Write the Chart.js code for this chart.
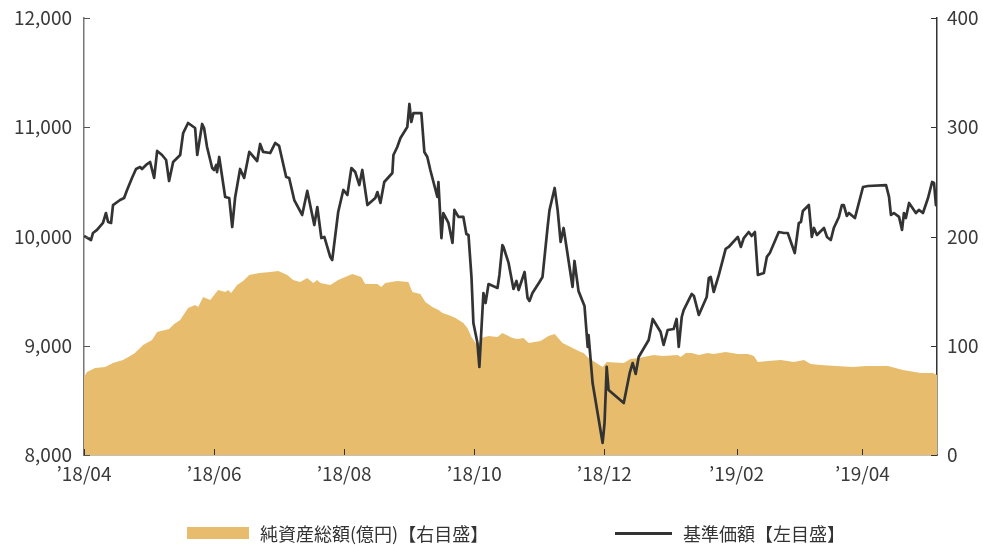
<!DOCTYPE html>
<html lang="ja">
<head>
<meta charset="utf-8">
<script src="https://cdn.jsdelivr.net/npm/chart.js@4/dist/chart.umd.min.js"></script>
<style>
  html, body { margin:0; padding:0; background:#fff; }
  #wrap { position:relative; width:983px; height:545px; }
  #legend { position:absolute; left:0; top:521px; width:983px; height:24px;
    font-family:'Noto Sans CJK JP','Noto Sans',sans-serif; font-size:18px; color:#333; }
  .lg { position:absolute; top:0; display:flex; align-items:center; height:24px; white-space:nowrap; }
  .sw-box { display:inline-block; width:62px; height:12px; background:#e7bd6d; margin-right:11px; }
  .sw-line { display:inline-block; width:57px; height:3px; background:#333; margin-right:11px; }
</style>
</head>
<body>
<div id="wrap">
  <canvas id="c" width="983" height="545"></canvas>
  <div id="legend">
    <div class="lg" style="left:187px"><span class="sw-box"></span>純資産総額(億円)【右目盛】</div>
    <div class="lg" style="left:615px"><span class="sw-line"></span>基準価額【左目盛】</div>
  </div>
</div>
<script>
// days counted from 2018/04/01
const monthTicks = [0, 61, 122, 183, 244, 306, 365];
const monthLabels = ['’18/04', '’18/06', '’18/08', '’18/10', '’18/12', '’19/02', '’19/04'];
const leftTicks = [8000, 9000, 10000, 11000, 12000];
const rightTicks = [0, 100, 200, 300, 400];

// 基準価額 (left axis)
const navDays = [0,3.3,4.2,6.1,8.9,10.3,11.3,12.7,13.6,16.9,18.8,20.2,22.5,24.4,26.3,27.2,29.1,31,32.9,34.3,
  36.6,38.5,39.9,41.8,45.1,46.5,48.8,52.1,53.1,55.4,56.3,57.7,60.1,61,62,62.4,63.4,64.8,66.2,68.1,
  69.5,70.9,73.2,75.1,77.5,81.2,82.6,84,87.3,89.7,91.5,94.8,96.2,98.6,102.3,104.7,108,109.4,111.3,112.7,
  115.5,116.4,119.2,121.6,123.5,125.4,127.2,129.1,130.5,132.9,136.6,137.6,139,140.8,144.6,145.1,146.9,148.4,151.6,152.6,
  153.5,154.5,158.2,159.6,161,162.4,165.7,166.2,167.6,168.5,170.9,172.8,173.7,175.6,177.9,179.3,180.3,181.7,182.6,184.5,
  185.4,187.3,188.3,189.7,193.9,194.8,196.2,196.7,199.1,201.4,202.8,203.8,206.6,208,208.9,210.3,213.6,215,217.4,218.3,
  220.7,222.1,223.5,224.9,229.1,230,231.9,234.7,236.2,236.6,238.5,243.2,244.1,245.1,246,253.1,255.9,257.3,258.7,260.1,
  264.8,266.7,270.4,271.8,273.7,276.5,277.9,278.9,280.3,281.2,285,286,288.3,292,293,293.9,295.3,297.7,300.9,302.3,
  306.6,308,309.4,311.7,313.1,314.6,316,318.8,320.2,321.6,325.8,328.2,330,333.3,335.2,336.2,337.1,339.9,341.3,342.3,
  343.7,347,348.4,350.2,351.6,354,355.4,356.3,357.7,358.7,361.5,365.3,367.6,376.1,377.5,378.4,379.8,382.2,383.6,384.5,
  385.4,386.9,390.1,391.5,393.4,395.8,397.7,398.6,399.5,400];
const navValues = [10005,9968,10032,10060,10124,10215,10133,10124,10288,10334,10352,10426,10536,10618,10636,10618,10655,10682,10536,10783,
  10746,10700,10508,10682,10746,10947,11039,10993,10746,11030,10993,10819,10627,10609,10655,10590,10728,10545,10362,10352,
  10087,10362,10618,10536,10774,10691,10847,10774,10764,10856,10829,10545,10536,10334,10197,10417,10105,10270,9986,9996,
  9812,9785,10224,10426,10380,10627,10590,10471,10609,10288,10352,10407,10307,10499,10581,10746,10819,10902,11002,11213,
  11048,11130,11130,10774,10728,10609,10362,10499,9986,10215,10124,9941,10243,10179,10179,10023,10014,9629,9208,9025,
  8806,9483,9391,9565,9529,9648,9922,9904,9758,9520,9593,9510,9675,9437,9410,9483,9584,9629,10087,10243,
  10444,10243,9950,10078,9538,9776,9500,9364,8989,9098,8659,8110,8293,8806,8595,8476,8751,8842,8742,8897,
  9053,9245,9126,9007,9144,9153,9245,8989,9263,9327,9474,9456,9282,9446,9620,9629,9492,9648,9886,9904,
  9996,9904,9986,10041,10005,10041,9648,9666,9813,9849,10041,10032,10032,9849,10124,10133,10234,10288,9996,10078,
  10014,10078,9996,9968,10078,10179,10288,10288,10188,10215,10169,10453,10462,10471,10362,10197,10215,10179,10060,10215,
  10169,10307,10215,10243,10215,10352,10499,10490,10288,10307];

// 純資産総額 (right axis, 億円)
const assetDays = [0,1.4,5.2,9.9,13.6,18.3,21.6,23.9,27.7,31.9,34.3,39.9,42.3,45.1,48.8,52.1,53.5,55.9,59.2,62.9,
  66.2,67.6,69,71.8,74.6,77.5,82.2,87.3,91.1,95.3,98.1,101.4,104.7,107.5,109.4,110.8,115.5,119.2,125.8,130,
  131.9,137.6,139.4,141.3,146.9,152.1,154,157.7,160.1,163.4,166.2,168.1,170.9,174.2,177.9,179.8,181.7,183.6,185,186.4,
  189.7,193.9,196.2,200.9,203.3,206.1,208.5,214.1,217.8,220.7,224.4,229.1,232.9,234.3,236.6,243.2,245.1,253.1,256.3,260.1,
  267.1,271.4,278.4,279.8,282.2,285,288.3,292.5,295.3,300.9,306.6,311.3,314.1,316,320.7,326.8,332.9,337.6,340.8,345.5,
  352.6,360.6,366.7,377,384,392.5,398.1,400];
const assetValues = [71.4,76,79.6,80.5,84.2,87,90.6,93.4,100.7,105.3,112.6,115.3,119.9,123.6,134.6,137.3,135.5,144.6,141.9,151,
  149.2,151,148.3,155.6,159.3,164.8,166.6,167.5,168.4,164.8,160.2,158.4,162,157.4,160.2,157.4,155.6,160.2,165.7,162.9,
  156.5,156.5,153.8,157.4,159.3,158.4,149.2,147.4,140,135.5,132.7,130,128.1,125.4,120.8,116.2,108,102.5,100.7,107.1,
  108.9,108,111.7,107.1,106.2,107.1,102.5,104.3,108.9,110.8,102.5,97.9,94.3,93.4,88.8,80.5,85.1,84.2,87.9,88.8,
  91.5,90.6,91.5,89.7,93.4,93.4,91.5,93.4,92.4,94.3,92.4,92.4,90.6,85.1,86,87,85.1,87,83.3,82.4,
  81.5,80.5,81.5,81.5,77.8,75.1,75.1,73.2];

const FONT = "'Noto Sans CJK JP','Noto Sans',sans-serif";
Chart.defaults.font.family = FONT;
Chart.defaults.color = '#3a3a3a';

// inward tick marks
const innerTicks = {
  id:'innerTicks',
  afterDatasetsDraw(chart){
    const {ctx, chartArea:a, scales} = chart;
    ctx.save();
    ctx.lineWidth = 1;
    ctx.strokeStyle = '#555';
    leftTicks.forEach(v => {
      const y = Math.round(scales.y.getPixelForValue(v)) + 0.5;
      ctx.beginPath(); ctx.moveTo(a.left, y); ctx.lineTo(a.left + 6, y); ctx.stroke();
    });
    ctx.strokeStyle = '#333';
    rightTicks.forEach(v => {
      const y = Math.round(scales.y2.getPixelForValue(v)) + 0.5;
      ctx.beginPath(); ctx.moveTo(a.right - 6, y); ctx.lineTo(a.right, y); ctx.stroke();
    });
    monthTicks.forEach(v => {
      const x = Math.round(scales.x.getPixelForValue(v)) + 0.5;
      ctx.beginPath(); ctx.moveTo(x, a.bottom); ctx.lineTo(x, a.bottom - 6); ctx.stroke();
    });
    ctx.restore();
  }
};

function fixY(width){
  return s => { s.width = width; s.paddingTop = 0; s.paddingBottom = 0; };
}

new Chart(document.getElementById('c'), {
  type:'line',
  data:{
    datasets:[
      {
        label:'基準価額【左目盛】',
        data:navDays.map((d,i)=>({x:d, y:navValues[i]})),
        yAxisID:'y',
        borderColor:'#333',
        borderWidth:2.7,
        borderJoinStyle:'round',
        pointRadius:0,
        tension:0,
        fill:false,
        order:1
      },
      {
        label:'純資産総額(億円)【右目盛】',
        data:assetDays.map((d,i)=>({x:d, y:assetValues[i]})),
        yAxisID:'y2',
        borderWidth:0,
        borderColor:'rgba(0,0,0,0)',
        backgroundColor:'#e7bd6d',
        pointRadius:0,
        tension:0,
        fill:'origin',
        order:2
      }
    ]
  },
  options:{
    responsive:false,
    animation:false,
    events:[],
    layout:{padding:{top:18, left:0, right:0, bottom:0}},
    plugins:{legend:{display:false}, tooltip:{enabled:false}},
    scales:{
      x:{
        type:'linear', min:0, max:400,
        afterBuildTicks:s => { s.ticks = monthTicks.map(v=>({value:v})); },
        afterFit:s => { s.height = 90; s.paddingLeft = 0; s.paddingRight = 0; },
        grid:{display:false, drawTicks:false},
        border:{display:true, color:'#8a8478', width:1.5},
        ticks:{padding:7, font:{size:19}, maxRotation:0, autoSkip:false,
          callback:v => monthLabels[monthTicks.indexOf(v)] || ''}
      },
      y:{
        position:'left', min:8000, max:12000,
        afterBuildTicks:s => { s.ticks = leftTicks.map(v=>({value:v})); },
        afterFit:fixY(84),
        grid:{display:false, drawTicks:false},
        border:{display:true, color:'#777', width:1.5},
        ticks:{padding:12, font:{size:19}, callback:v => v.toLocaleString('en-US')}
      },
      y2:{
        position:'right', min:0, max:400,
        afterBuildTicks:s => { s.ticks = rightTicks.map(v=>({value:v})); },
        afterFit:fixY(46),
        grid:{display:false, drawTicks:false},
        border:{display:true, color:'#333', width:1.5},
        ticks:{padding:10, font:{size:19}}
      }
    }
  },
  plugins:[innerTicks]
});
</script>
</body>
</html>
